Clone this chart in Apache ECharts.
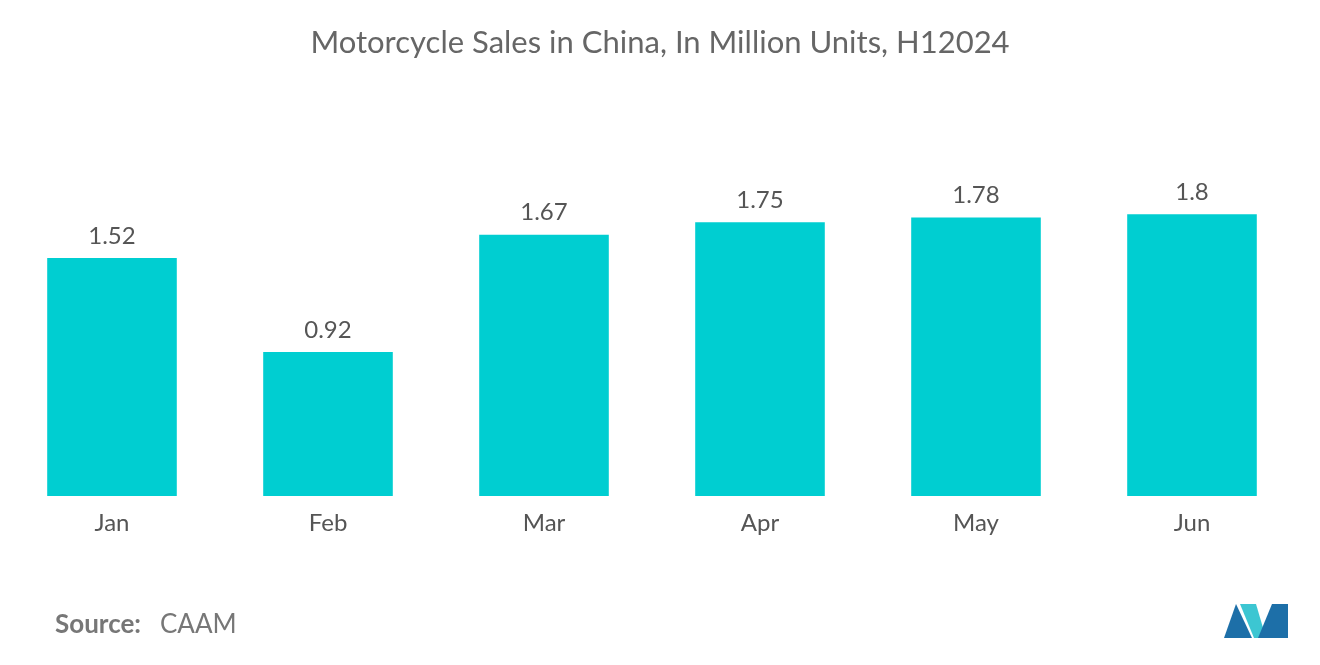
<!DOCTYPE html>
<html>
<head>
<meta charset="utf-8">
<script src="https://cdn.jsdelivr.net/npm/echarts@6/dist/echarts.min.js"></script>
<style>html,body{margin:0;padding:0;background:#fff}#chart{width:1320px;height:665px}</style>
</head>
<body>
<div id="chart"></div>
<script>
const months = ['Jan', 'Feb', 'Mar', 'Apr', 'May', 'Jun'];
const sales = [1.52, 0.92, 1.67, 1.75, 1.78, 1.8];

const chart = echarts.init(document.getElementById('chart'));
chart.setOption({
  animation: false,
  title: {
    text: 'Motorcycle Sales in China, In Million Units, H12024',
    left: 'center',
    top: 22,
    textStyle: { fontFamily: 'Lato', fontWeight: 'normal', fontSize: 31, color: '#666' }
  },
  grid: { left: 4, right: 20, top: 183, bottom: 169 },
  xAxis: {
    type: 'category',
    data: months,
    axisLine: { show: false },
    axisTick: { show: false },
    axisLabel: { fontFamily: 'Lato', fontSize: 24, color: '#555', margin: 15 }
  },
  yAxis: { type: 'value', min: 0, max: 2, show: false },
  series: [{
    type: 'bar',
    data: sales,
    barWidth: '60%',
    itemStyle: { color: '#00CED1' },
    label: { show: true, position: 'top', distance: 10, fontFamily: 'Lato', fontSize: 24, color: '#555' }
  }],
  graphic: [
    { type: 'text', left: 55, top: 612, style: { text: 'Source:', font: 'bold 26px Lato', fill: '#777' } },
    { type: 'text', left: 160, top: 612, style: { text: 'CAAM', font: '26px Lato', fill: '#777' } },
    { type: 'polygon', shape: { points: [[1224, 638], [1236, 604], [1252, 638]] }, style: { fill: '#1d6fa8' } },
    { type: 'polygon', shape: { points: [[1240, 604], [1256, 604], [1266, 638], [1254, 638]] }, style: { fill: '#3cc6d2' } },
    { type: 'polygon', shape: { points: [[1258, 638], [1272, 604], [1288, 604], [1288, 638]] }, style: { fill: '#1d6fa8' } }
  ]
});
</script>
</body>
</html>
